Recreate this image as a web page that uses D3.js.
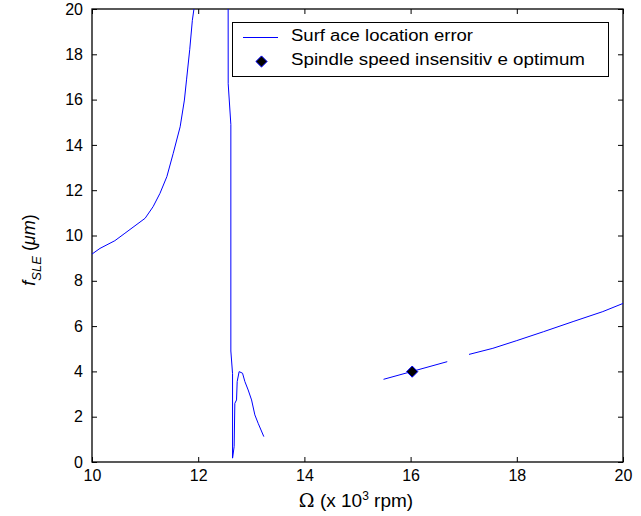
<!DOCTYPE html>
<html>
<head>
<meta charset="utf-8">
<script src="https://cdn.jsdelivr.net/npm/d3@7"></script>
<style>
  html, body { margin: 0; padding: 0; background: #fff; }
  svg text { font-family: "Liberation Sans", Arial, Helvetica, sans-serif; fill: #000; }
</style>
</head>
<body>
<div id="vis"></div>
<script>
// Surface location error vs spindle speed; null marks a gap in the curve.

const OMEGA = [
  10.00, 10.15, 10.43, 10.62, 11.00, 11.15, 11.28, 11.41, 11.53, 11.66, 11.74, 11.78, 11.84, 11.89, 11.92, null,
  12.564, 12.565, 12.615, 12.615, 12.647, 12.647, 12.677, 12.690, 12.722, 12.734, 12.771, 12.835, 12.879, 12.941, 13.005, 13.067, 13.129, 13.236, null,
  15.49, 16.03, 16.69, null,
  17.10, 17.55, 18.00, 18.50, 19.06, 19.62, 20.00
];
const SLE = [
  9.18, 9.43, 9.77, 10.10, 10.76, 11.27, 11.86, 12.60, 13.63, 14.80, 15.98, 16.87, 18.20, 19.50, 20.00, null,
  20.00, 16.70, 14.90, 4.90, 3.90, 0.17, 0.68, 2.59, 2.74, 3.55, 3.99, 3.92, 3.55, 3.18, 2.74, 2.08, 1.71, 1.12, null,
  3.65, 4.00, 4.43, null,
  4.75, 5.02, 5.36, 5.75, 6.20, 6.64, 7.00
];

const OPT_OMEGA = [16.03];
const OPT_SLE   = [3.99];

const X_TICKS = [10, 12, 14, 16, 18, 20];
const Y_TICKS = [0, 2, 4, 6, 8, 10, 12, 14, 16, 18, 20];

const LEGEND_LABELS = ["Surf ace location error", "Spindle speed insensitiv e optimum"];

const W = 641, H = 516;
const margin = { top: 9, right: 18, bottom: 54, left: 92 };
const innerW = W - margin.left - margin.right;
const innerH = H - margin.top - margin.bottom;
const LINE_COLOR = "#0000ff";

const svg = d3.select("#vis").append("svg").attr("width", W).attr("height", H);
const g = svg.append("g").attr("transform", `translate(${margin.left},${margin.top})`);

const x = d3.scaleLinear().domain([10, 20]).range([0, innerW]);
const y = d3.scaleLinear().domain([0, 20]).range([innerH, 0]);

// ── Axes (MATLAB box style, ticks pointing inward) ──────────────────────────

const tick = 5;
g.append("g").attr("transform", `translate(0,${innerH})`)
  .call(d3.axisBottom(x).tickValues(X_TICKS).tickSizeInner(-tick).tickSizeOuter(0).tickPadding(8))
  .call(ax => ax.select(".domain").remove())
  .selectAll("text").style("font-size", "16px");

g.append("g")
  .call(d3.axisLeft(y).tickValues(Y_TICKS).tickSizeInner(-tick).tickSizeOuter(0).tickPadding(9))
  .call(ax => ax.select(".domain").remove())
  .selectAll("text").style("font-size", "16px");

g.append("g")
  .call(d3.axisTop(x).tickValues(X_TICKS).tickSizeInner(-tick).tickSizeOuter(0).tickFormat(""))
  .call(ax => ax.select(".domain").remove());

g.append("g").attr("transform", `translate(${innerW},0)`)
  .call(d3.axisRight(y).tickValues(Y_TICKS).tickSizeInner(-tick).tickSizeOuter(0).tickFormat(""))
  .call(ax => ax.select(".domain").remove());

g.selectAll(".tick line").attr("stroke", "#000");

g.append("rect")
  .attr("x", 0).attr("y", 0).attr("width", innerW).attr("height", innerH)
  .attr("fill", "none").attr("stroke", "#000").attr("stroke-width", 1.3);

// ── Curve ───────────────────────────────────────────────────────────────────

const pts = OMEGA.map((o, i) => ({ o, f: SLE[i] }));
const line = d3.line()
  .defined(d => d.o != null && d.f != null)
  .x(d => x(d.o)).y(d => y(d.f));

g.append("path")
  .datum(pts)
  .attr("d", line)
  .attr("fill", "none").attr("stroke", LINE_COLOR).attr("stroke-width", 1);

const diamond = d3.symbol().type(d3.symbolDiamond2).size(80);

g.selectAll(".opt")
  .data(OPT_OMEGA.map((o, i) => ({ o, f: OPT_SLE[i] })))
  .join("path")
    .attr("class", "opt")
    .attr("transform", d => `translate(${x(d.o)},${y(d.f)})`)
    .attr("d", diamond)
    .attr("fill", "#000").attr("stroke", LINE_COLOR).attr("stroke-width", 1);

// ── Axis labels ─────────────────────────────────────────────────────────────

const xl = svg.append("text")
  .attr("x", 356).attr("y", 507).attr("text-anchor", "middle")
  .style("font-size", "19px");
xl.append("tspan").style("font-family", "'DejaVu Serif', 'Times New Roman', serif").text("Ω");
xl.append("tspan").text(" (x 10");
xl.append("tspan").attr("dy", -7).style("font-size", "12px").text("3");
xl.append("tspan").attr("dy", 7).text(" rpm)");

const yl = svg.append("text")
  .attr("transform", "translate(35,250) rotate(-90)")
  .attr("text-anchor", "middle")
  .style("font-size", "18px");
yl.append("tspan").style("font-style", "italic").text("f");
yl.append("tspan").attr("dy", 6).style("font-size", "13px").style("font-style", "italic").text("SLE");
yl.append("tspan").attr("dy", -6).text(" (");
yl.append("tspan").style("font-style", "italic").text("μm");
yl.append("tspan").text(")");

// ── Legend ──────────────────────────────────────────────────────────────────

const lg = svg.append("g");
lg.append("rect")
  .attr("x", 232.5).attr("y", 22.5).attr("width", 376).attr("height", 54)
  .attr("fill", "#fff").attr("stroke", "#000").attr("stroke-width", 1);

lg.append("line")
  .attr("x1", 243).attr("x2", 278).attr("y1", 37.5).attr("y2", 37.5)
  .attr("stroke", LINE_COLOR).attr("stroke-width", 1);

lg.append("path")
  .attr("transform", "translate(261.5,61.5)")
  .attr("d", diamond)
  .attr("fill", "#000").attr("stroke", LINE_COLOR).attr("stroke-width", 1);

const LEGEND_WIDTHS = [182, 294];
LEGEND_LABELS.forEach((label, i) => {
  lg.append("text")
    .attr("x", 291).attr("y", 41 + i * 24)
    .attr("textLength", LEGEND_WIDTHS[i]).attr("lengthAdjust", "spacingAndGlyphs")
    .style("font-size", "16px")
    .text(label);
});
</script>
</body>
</html>
